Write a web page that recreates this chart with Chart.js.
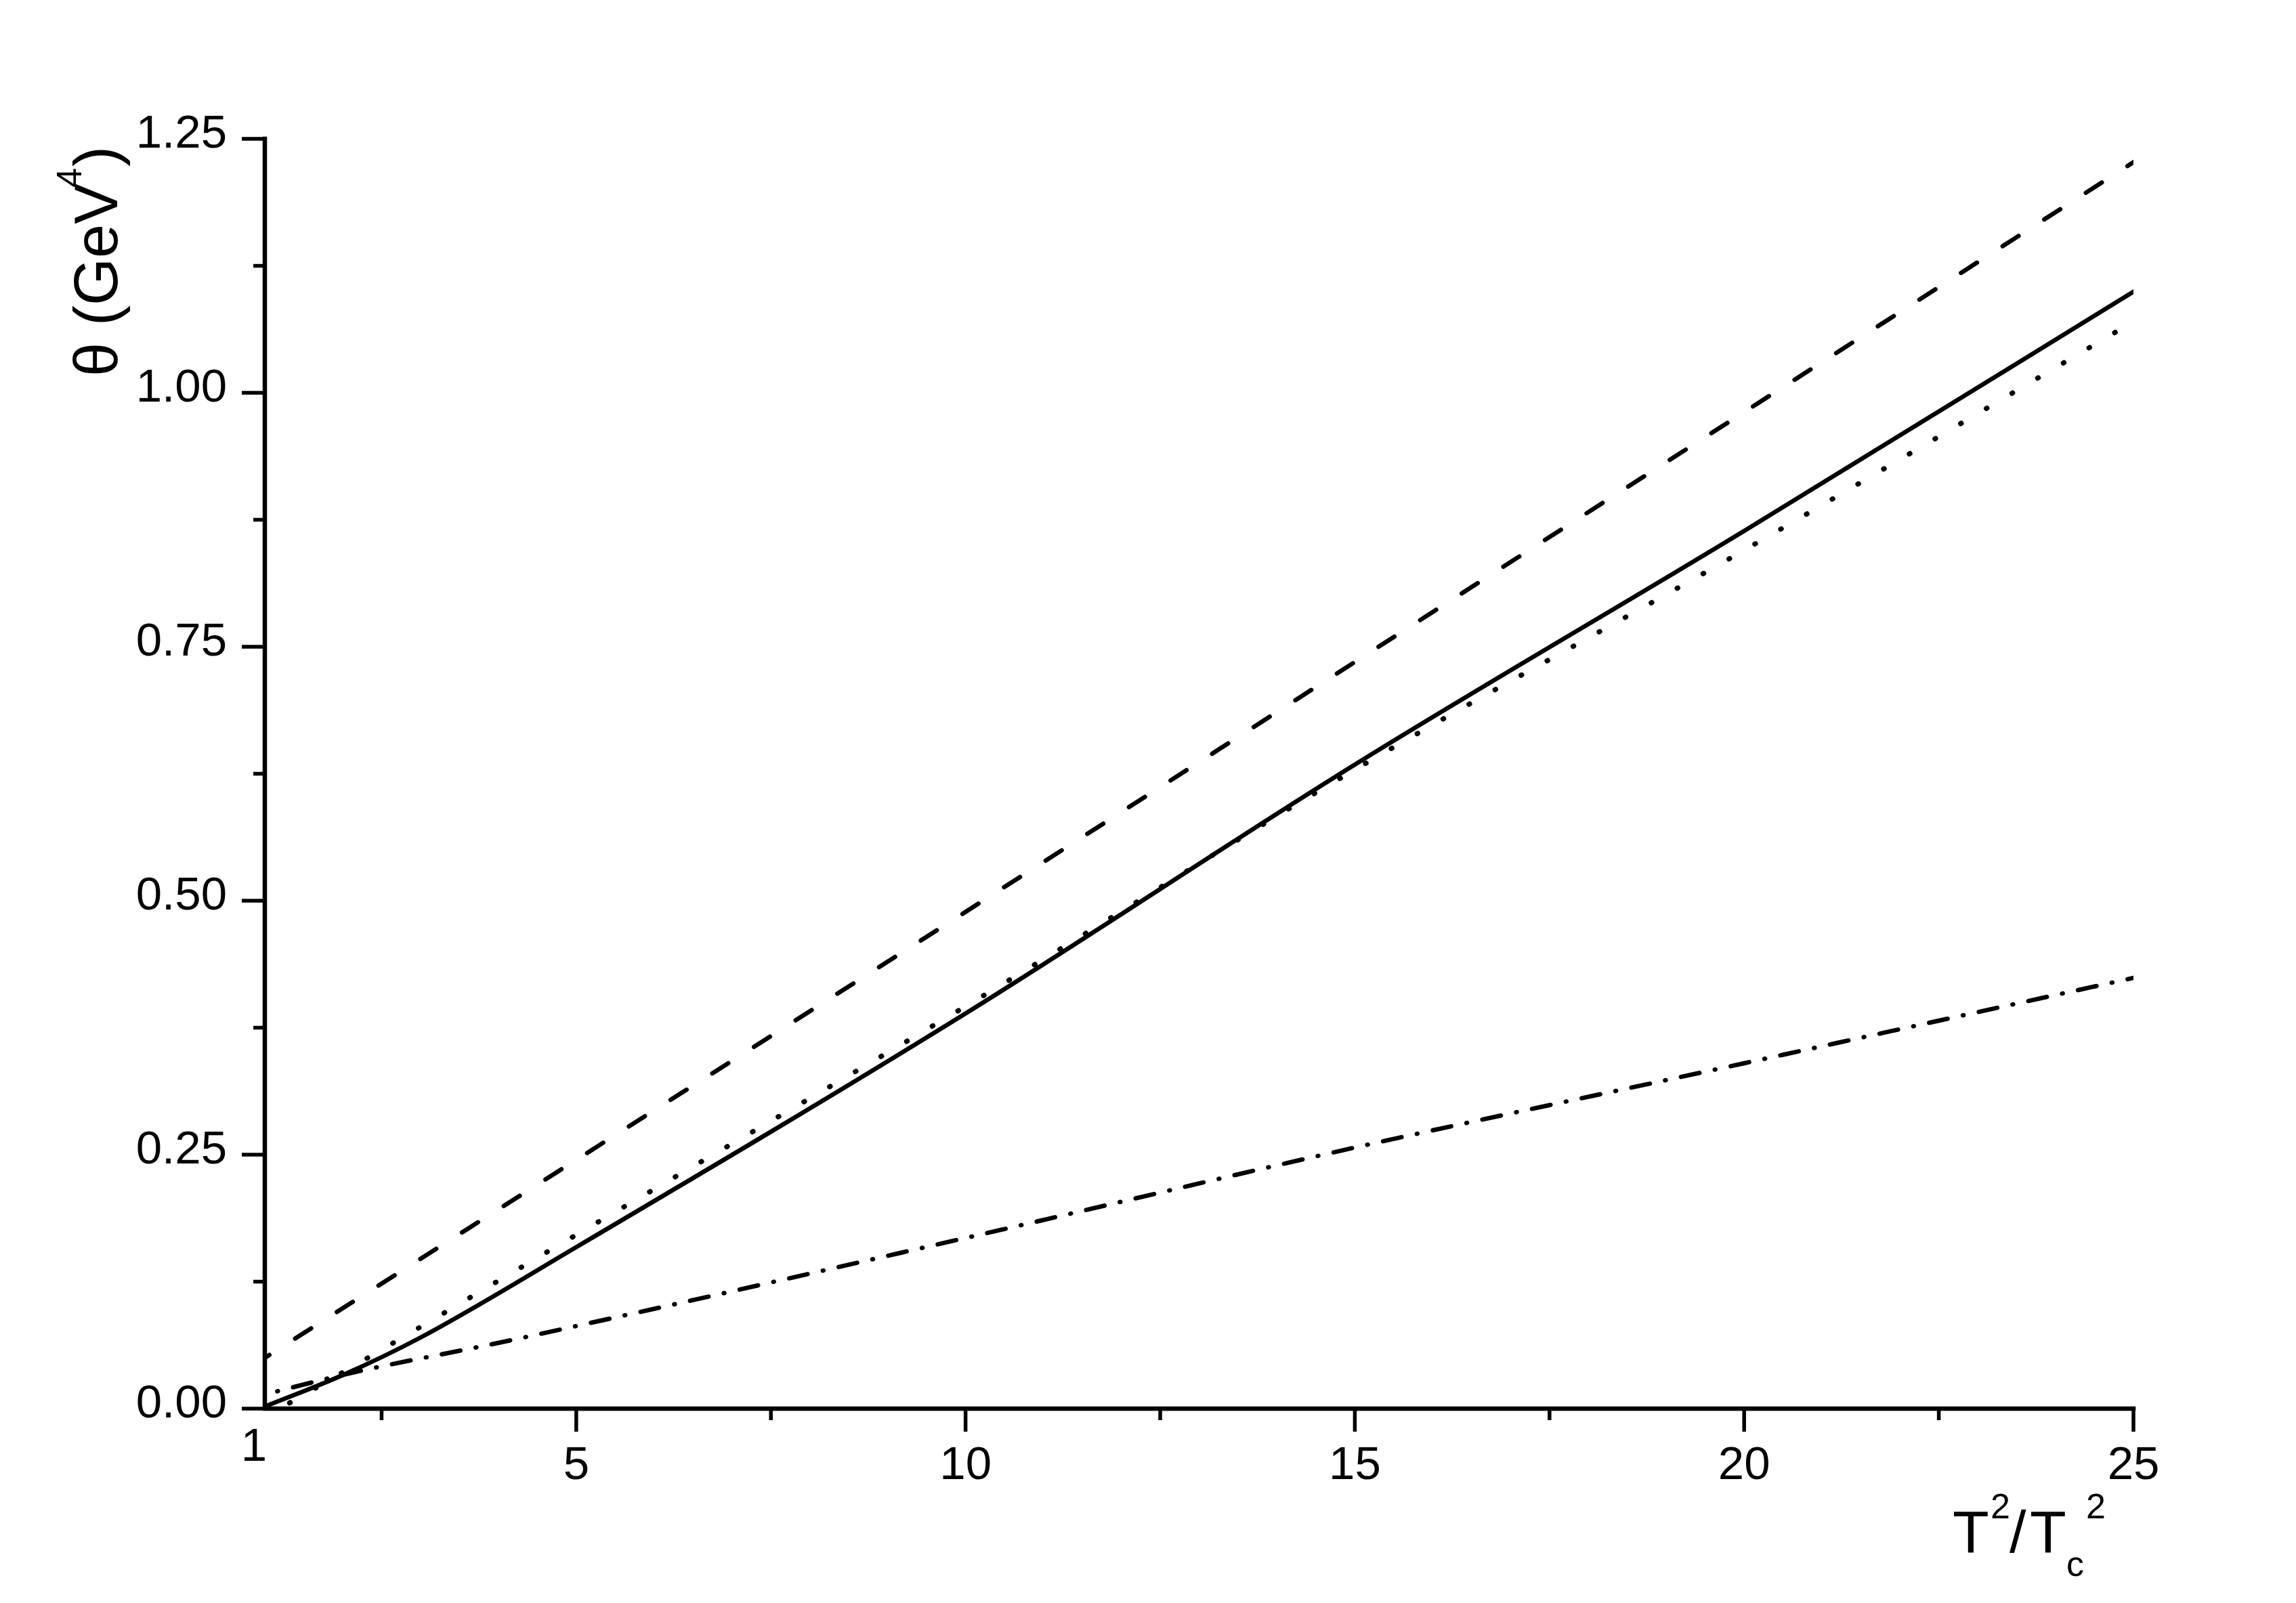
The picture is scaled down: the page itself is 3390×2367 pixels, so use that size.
<!DOCTYPE html>
<html><head><meta charset="utf-8">
<script src="https://cdn.jsdelivr.net/npm/chart.js@4/dist/chart.umd.min.js"></script>
<style>html,body{margin:0;padding:0;background:#fff;} canvas{display:block;}</style>
</head><body>
<canvas id="c" width="3390" height="2367"></canvas>
<script>
// ---- data ----
const xTickValues = [1, 5, 10, 15, 20, 25];
const xMinorTickValues = [2.5, 7.5, 12.5, 17.5, 22.5];
const yTickValues = [0, 0.25, 0.5, 0.75, 1.0, 1.25];
const yMinorTickValues = [0.125, 0.375, 0.625, 0.875, 1.125];

const solidX = [1, 2, 3, 5, 10, 15, 20, 25];
const solidY = [0.002, 0.033, 0.07, 0.159, 0.389, 0.634, 0.864, 1.0995];
const dashedX = [1, 10, 15, 20, 25];
const dashedY = [0.05, 0.489, 0.735, 0.981, 1.227];
const dottedX = [1.19, 2.3, 4.82, 10, 15, 20, 25];
const dottedY = [0, 0.049, 0.163, 0.396, 0.629, 0.845, 1.07];
const dashDotX = [1, 2.1, 4.14, 10, 15, 20, 25];
const dashDotY = [0.014, 0.035, 0.067, 0.168, 0.257, 0.34, 0.424];

const xTitleParts = ['T', '2', '/', 'T', 'c', '2'];
const yTitleParts = ['θ (GeV', '4', ')'];

const FAMILY = "'Liberation Sans', Arial, sans-serif";
const pts = (xs, ys) => xs.map((x, i) => ({x: x, y: ys[i]}));

const axesPlugin = {
  id: 'axesPlugin',
  beforeDraw(chart) {
    const ctx = chart.ctx;
    ctx.save();
    ctx.fillStyle = '#fff';
    ctx.fillRect(0, 0, chart.width, chart.height);
    ctx.restore();
  },
  afterDraw(chart) {
    const ctx = chart.ctx;
    const xs = chart.scales.x, ys = chart.scales.y;
    const L = xs.getPixelForValue(xs.min), R = xs.getPixelForValue(xs.max);
    const B = ys.getPixelForValue(ys.min), T = ys.getPixelForValue(ys.max);
    ctx.save();
    ctx.strokeStyle = '#000';
    // axis lines
    ctx.lineWidth = 6.5;
    ctx.lineCap = 'square';
    ctx.lineJoin = 'miter';
    ctx.beginPath();
    ctx.moveTo(L, T); ctx.lineTo(L, B); ctx.lineTo(R, B);
    ctx.stroke();
    // ticks
    ctx.lineWidth = 5.5;
    ctx.lineCap = 'butt';
    ctx.beginPath();
    yTickValues.forEach(v => { const p = ys.getPixelForValue(v); ctx.moveTo(L, p); ctx.lineTo(L - 34, p); });
    yMinorTickValues.forEach(v => { const p = ys.getPixelForValue(v); ctx.moveTo(L, p); ctx.lineTo(L - 17, p); });
    xTickValues.filter(v => v !== xs.min).forEach(v => { const p = xs.getPixelForValue(v); ctx.moveTo(p, B); ctx.lineTo(p, B + 34); });
    xMinorTickValues.forEach(v => { const p = xs.getPixelForValue(v); ctx.moveTo(p, B); ctx.lineTo(p, B + 17); });
    ctx.stroke();

    ctx.fillStyle = '#000';
    ctx.textBaseline = 'alphabetic';
    // first x tick label, set slightly up-left as in the reference
    ctx.textAlign = 'center';
    ctx.font = '69px ' + FAMILY;
    ctx.fillText(String(xTickValues[0]), xs.getPixelForValue(xTickValues[0]) - 16, B + 77);

    ctx.textAlign = 'left';
    // x title: T^2/T_c^2
    const xb = 2292;
    const xParts = [
      {t: xTitleParts[0], x: 2883, y: xb, s: 88},
      {t: xTitleParts[1], x: 2939, y: xb - 50, s: 52},
      {t: xTitleParts[2], x: 2967, y: xb, s: 88},
      {t: xTitleParts[3], x: 2997, y: xb, s: 88},
      {t: xTitleParts[4], x: 3051, y: xb + 35, s: 52},
      {t: xTitleParts[5], x: 3080, y: xb - 50, s: 52}
    ];
    xParts.forEach(p => { ctx.font = p.s + 'px ' + FAMILY; ctx.fillText(p.t, p.x, p.y); });
    // y title: θ (GeV^4)
    ctx.translate(173, 553);
    ctx.rotate(-Math.PI / 2);
    let u = -3;
    ctx.font = '90px ' + FAMILY;
    ctx.fillText(yTitleParts[0], u, 0);
    u += ctx.measureText(yTitleParts[0]).width - 6;
    ctx.font = '52px ' + FAMILY;
    ctx.fillText(yTitleParts[1], u, -53);
    u += ctx.measureText(yTitleParts[1]).width + 2;
    ctx.font = '90px ' + FAMILY;
    ctx.fillText(yTitleParts[2], u, 0);
    ctx.restore();
  }
};

const common = {borderColor: '#000', borderWidth: 6.5, pointRadius: 0, fill: false, cubicInterpolationMode: 'monotone', borderCapStyle: 'round', borderJoinStyle: 'round'};

new Chart(document.getElementById('c'), {
  type: 'line',
  data: {
    datasets: [
      Object.assign({label: 'solid', data: pts(solidX, solidY)}, common),
      Object.assign({label: 'dashed', data: pts(dashedX, dashedY), borderDash: [28, 45], borderDashOffset: 20}, common),
      Object.assign({label: 'dotted', data: pts(dottedX, dottedY), borderDash: [1, 43], borderDashOffset: 27}, common, {borderWidth: 7.5}),
      Object.assign({label: 'dashdot', data: pts(dashDotX, dashDotY), borderDash: [28, 23, 1, 23], borderDashOffset: 32}, common)
    ]
  },
  options: {
    responsive: false,
    devicePixelRatio: 1,
    animation: false,
    layout: {padding: {top: 205, right: 240, bottom: 0, left: 0}},
    plugins: {legend: {display: false}, tooltip: {enabled: false}, title: {display: false}},
    scales: {
      x: {
        type: 'linear', min: 1, max: 25,
        afterBuildTicks: s => { s.ticks = xTickValues.map(v => ({value: v})); },
        afterFit: s => { s.height = 287; },
        grid: {display: false, drawTicks: true, tickLength: 34},
        border: {display: false},
        ticks: {color: '#000', font: {family: FAMILY, size: 69}, padding: 10, maxRotation: 0, autoSkip: false,
                callback: v => (v === xTickValues[0] ? '' : String(v))}
      },
      y: {
        type: 'linear', min: 0, max: 1.25,
        afterBuildTicks: s => { s.ticks = yTickValues.map(v => ({value: v})); },
        afterFit: s => { s.width = 391; },
        grid: {display: false, drawTicks: true, tickLength: 34},
        border: {display: false},
        ticks: {color: '#000', font: {family: FAMILY, size: 69}, padding: 22, labelOffset: -6, autoSkip: false,
                callback: v => Number(v).toFixed(2)}
      }
    }
  },
  plugins: [axesPlugin]
});
</script>
</body></html>
